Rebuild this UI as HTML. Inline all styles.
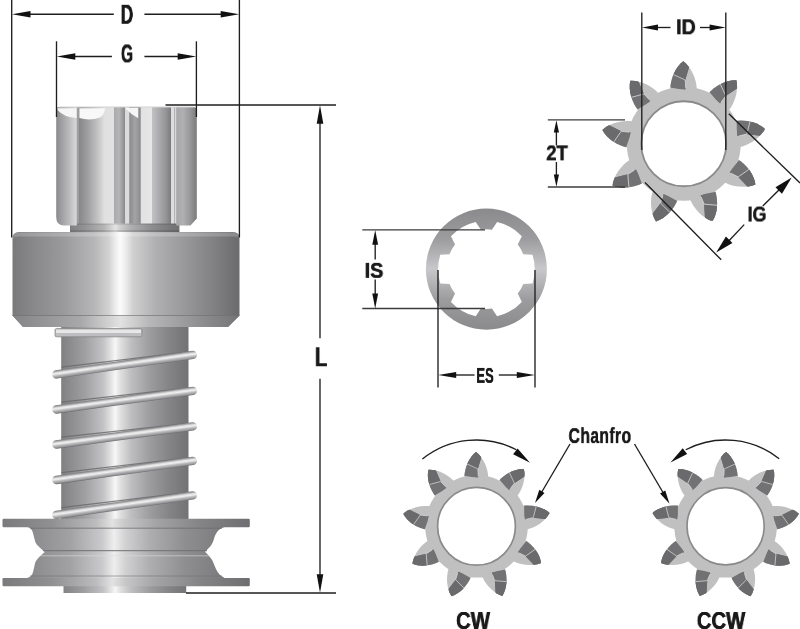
<!DOCTYPE html>
<html lang="pt"><head><meta charset="utf-8"><title>Bendix drive dimensions</title>
<style>
html,body{margin:0;padding:0;background:#fff;}
body{width:800px;height:629px;overflow:hidden;}
#w{position:relative;width:800px;height:629px;overflow:hidden;}
svg{display:block;position:absolute;left:0;top:0;}
.t{position:absolute;font-family:"Liberation Sans",sans-serif;font-weight:bold;color:#1a1a1a;line-height:1;white-space:nowrap;transform-origin:50% 100%;will-change:transform;}
</style></head><body><div id="w">
<svg width="800" height="629" viewBox="0 0 800 629">
<defs>
<linearGradient id="gCollar" x1="12" x2="240" y1="0" y2="0" gradientUnits="userSpaceOnUse">
 <stop offset="0" stop-color="#79797b"/>
 <stop offset="0.085" stop-color="#87878a"/>
 <stop offset="0.22" stop-color="#99999b"/>
 <stop offset="0.36" stop-color="#b6b6b8"/>
 <stop offset="0.425" stop-color="#d2d2d3"/>
 <stop offset="0.455" stop-color="#eeeeee"/>
 <stop offset="0.475" stop-color="#fcfcfc"/>
 <stop offset="0.495" stop-color="#efefef"/>
 <stop offset="0.53" stop-color="#d0d0d1"/>
 <stop offset="0.63" stop-color="#b0b0b2"/>
 <stop offset="0.77" stop-color="#969698"/>
 <stop offset="0.90" stop-color="#7e7e80"/>
 <stop offset="1" stop-color="#6a6a6c"/>
</linearGradient>
<linearGradient id="gCollarB" x1="12" x2="240" y1="0" y2="0" gradientUnits="userSpaceOnUse">
 <stop offset="0" stop-color="#848486"/>
 <stop offset="0.30" stop-color="#a8a8aa"/>
 <stop offset="0.475" stop-color="#e2e2e2"/>
 <stop offset="0.60" stop-color="#b8b8ba"/>
 <stop offset="0.85" stop-color="#8a8a8c"/>
 <stop offset="1" stop-color="#747476"/>
</linearGradient>
<linearGradient id="gShaft" x1="61" x2="188.5" y1="0" y2="0" gradientUnits="userSpaceOnUse">
 <stop offset="0" stop-color="#808082"/>
 <stop offset="0.18" stop-color="#9e9ea0"/>
 <stop offset="0.33" stop-color="#c2c2c4"/>
 <stop offset="0.395" stop-color="#e4e4e4"/>
 <stop offset="0.425" stop-color="#f7f7f7"/>
 <stop offset="0.46" stop-color="#e2e2e2"/>
 <stop offset="0.55" stop-color="#bebec0"/>
 <stop offset="0.70" stop-color="#9c9c9e"/>
 <stop offset="0.85" stop-color="#848486"/>
 <stop offset="1" stop-color="#727274"/>
</linearGradient>
<linearGradient id="gFl" x1="2" x2="250" y1="0" y2="0" gradientUnits="userSpaceOnUse">
 <stop offset="0" stop-color="#7a7a7c"/>
 <stop offset="0.20" stop-color="#909092"/>
 <stop offset="0.38" stop-color="#bcbcbe"/>
 <stop offset="0.445" stop-color="#e2e2e2"/>
 <stop offset="0.50" stop-color="#c6c6c8"/>
 <stop offset="0.62" stop-color="#a4a4a6"/>
 <stop offset="0.80" stop-color="#848486"/>
 <stop offset="1" stop-color="#6e6e70"/>
</linearGradient>
<linearGradient id="gBody" x1="27" x2="225" y1="0" y2="0" gradientUnits="userSpaceOnUse">
 <stop offset="0" stop-color="#88888a"/>
 <stop offset="0.22" stop-color="#a2a2a4"/>
 <stop offset="0.38" stop-color="#cacacc"/>
 <stop offset="0.44" stop-color="#eeeeee"/>
 <stop offset="0.50" stop-color="#d0d0d2"/>
 <stop offset="0.62" stop-color="#aeaeb0"/>
 <stop offset="0.80" stop-color="#8e8e90"/>
 <stop offset="1" stop-color="#7a7a7c"/>
</linearGradient>
<linearGradient id="gPin" x1="56" x2="197" y1="0" y2="0" gradientUnits="userSpaceOnUse">
 <stop offset="0.0014" stop-color="#8a8a8c"/>
 <stop offset="0.0284" stop-color="#9a9a9c"/>
 <stop offset="0.0851" stop-color="#b6b6b8"/>
 <stop offset="0.1440" stop-color="#d8d8d8"/>
 <stop offset="0.1482" stop-color="#a2a2a4"/>
 <stop offset="0.1631" stop-color="#9c9c9e"/>
 <stop offset="0.1660" stop-color="#88888a"/>
 <stop offset="0.2270" stop-color="#a0a0a2"/>
 <stop offset="0.2979" stop-color="#c4c4c6"/>
 <stop offset="0.3440" stop-color="#e0e0e0"/>
 <stop offset="0.4078" stop-color="#e2e2e2"/>
 <stop offset="0.4106" stop-color="#aaaaac"/>
 <stop offset="0.4468" stop-color="#b6b6b8"/>
 <stop offset="0.4865" stop-color="#8c8c8e"/>
 <stop offset="0.4894" stop-color="#dadada"/>
 <stop offset="0.5191" stop-color="#dcdcdc"/>
 <stop offset="0.5220" stop-color="#8c8c8e"/>
 <stop offset="0.5603" stop-color="#a4a4a6"/>
 <stop offset="0.5986" stop-color="#8c8c8e"/>
 <stop offset="0.6014" stop-color="#e2e2e2"/>
 <stop offset="0.6780" stop-color="#e6e6e6"/>
 <stop offset="0.6809" stop-color="#c2c2c4"/>
 <stop offset="0.7376" stop-color="#a8a8aa"/>
 <stop offset="0.7801" stop-color="#949496"/>
 <stop offset="0.8156" stop-color="#7c7c7e"/>
 <stop offset="0.8184" stop-color="#dcdcdc"/>
 <stop offset="0.8369" stop-color="#dedede"/>
 <stop offset="0.8397" stop-color="#aaaaac"/>
 <stop offset="0.8440" stop-color="#dadada"/>
 <stop offset="0.8525" stop-color="#d6d6d6"/>
 <stop offset="0.8553" stop-color="#a8a8aa"/>
 <stop offset="0.9007" stop-color="#b0b0b2"/>
 <stop offset="0.9504" stop-color="#98989a"/>
 <stop offset="0.9986" stop-color="#7a7a7c"/>
</linearGradient>
<linearGradient id="gWire" x1="0" x2="0" y1="-4.2" y2="4.2" gradientUnits="userSpaceOnUse">
 <stop offset="0" stop-color="#7c7c7e"/>
 <stop offset="0.13" stop-color="#a4a4a6"/>
 <stop offset="0.30" stop-color="#e2e2e2"/>
 <stop offset="0.45" stop-color="#eeeeee"/>
 <stop offset="0.66" stop-color="#bababc"/>
 <stop offset="0.86" stop-color="#98989a"/>
 <stop offset="1" stop-color="#6c6c6e"/>
</linearGradient>
<linearGradient id="gRing" x1="0" x2="0" y1="208" y2="330" gradientUnits="userSpaceOnUse">
 <stop offset="0" stop-color="#8a8a8c"/>
 <stop offset="0.25" stop-color="#9c9c9e"/>
 <stop offset="0.5" stop-color="#c8c8ca"/>
 <stop offset="0.75" stop-color="#9c9c9e"/>
 <stop offset="1" stop-color="#8a8a8c"/>
</linearGradient>
<clipPath id="cTooth"><path d="M -13.5,-54 C -13.5,-65 -8,-77 -0.5,-82.5 C 7,-77 13,-65 13,-54 Z"/></clipPath>
<g id="tooth">
 <path d="M -13.5,-54 C -13.5,-65 -8,-77 -0.5,-82.5 C 7,-77 13,-65 13,-54 Z" fill="#c0c0c1"/>
 <g clip-path="url(#cTooth)">
  <polygon points="-20,-90 8,-90 5.3,-76.5 1.5,-64 1.9,-53.6 -14,-56.2" fill="#727274"/>
  <polygon points="-20,-70.6 -11,-69.4 1.5,-63.75 5.3,-76.5 8,-90 -20,-90" fill="#6a6a6c"/>
  <path d="M -12,-70 L 1.5,-63.75 L 1.9,-56" fill="none" stroke="#d4d4d4" stroke-width="0.8"/>
 </g>
</g>
<g id="gear">

<circle r="57" fill="#c0c0c1"/>
<use href="#tooth" transform="rotate(0)"/>
<use href="#tooth" transform="rotate(40)"/>
<use href="#tooth" transform="rotate(80)"/>
<use href="#tooth" transform="rotate(120)"/>
<use href="#tooth" transform="rotate(160)"/>
<use href="#tooth" transform="rotate(200)"/>
<use href="#tooth" transform="rotate(240)"/>
<use href="#tooth" transform="rotate(280)"/>
<use href="#tooth" transform="rotate(320)"/>
</g>
</defs>
<rect width="800" height="629" fill="#fff"/>

<rect x="63.5" y="584" width="122.7" height="9" fill="url(#gShaft)"/>
<rect x="61.2" y="325" width="127.3" height="196" fill="url(#gShaft)"/>
<rect x="70" y="222" width="109.4" height="11" fill="url(#gShaft)"/>
<rect x="70" y="222" width="109.4" height="11" fill="#000" opacity="0.08"/>
<rect x="70" y="223.4" width="109.4" height="1.2" fill="#000" opacity="0.14"/>
<rect x="70" y="230" width="109.4" height="2.5" fill="#000" opacity="0.12"/>
<path d="M56.2,110 Q56.2,107 59.2,107 L192.8,107 Q196.8,107 196.8,111 L196.8,218.5 L190.5,225.6 L176.3,225.6 L176.3,223.5 L77,223.5 L77,225.6 L64.2,225.6 Q56.2,225.6 56.2,217 Z" fill="url(#gPin)"/>
<path d="M57.5,108.2 L76.6,108.2 L76.6,118 Q64,117.5 57.5,110 Z" fill="#f6f6f6"/>
<path d="M79.4,108.2 L105,108.2 Q104.5,114.5 100,117.5 Q90,121 79.4,118 Z" fill="#f8f8f8"/>
<path d="M125,108 L138.2,108 L138.2,118.2 L131.5,114 Z" fill="#f6f6f6"/>
<path d="M59.2,107 L193.8,107" stroke="#d4d4d4" stroke-width="1.2" fill="none"/>
<path d="M12.5,238.5 Q12.5,232 19,232 L233,232 Q239.5,232 239.5,238.5 L239.5,315.5 L228,327 L23,327 L12.5,315.5 Z" fill="url(#gCollar)"/>
<path d="M13,238.5 Q13,232.4 19,232.4 L233,232.4 Q239,232.4 239,238.5 Q239,236.4 233,236.4 L19,236.4 Q13,236.4 13,238.5 Z" fill="#fff" opacity="0.2"/>
<path d="M12.5,315.5 L239.5,315.5 L228,327 L23,327 Z" fill="url(#gCollarB)"/>
<line x1="12.5" y1="315.5" x2="239.5" y2="315.5" stroke="#6e6e70" stroke-width="0.9" opacity="0.7"/>
<rect x="55" y="328.6" width="87" height="8.2" rx="1.5" fill="#bebec0" stroke="#858587" stroke-width="0.8"/>
<rect x="56" y="329.6" width="85" height="3.4" fill="#e6e6e6"/>
<line x1="61.5" y1="367.11" x2="188.5" y2="351.97" stroke="#68686a" stroke-width="1.3" opacity="0.8"/>
<g transform="translate(56.30,374.46) rotate(-8.130)"><rect x="-4.2" y="-4.2" width="146.29" height="8.4" rx="4.2" fill="url(#gWire)"/></g>
<line x1="61.5" y1="402.18" x2="188.5" y2="387.92" stroke="#68686a" stroke-width="1.3" opacity="0.8"/>
<g transform="translate(56.30,409.48) rotate(-7.738)"><rect x="-4.2" y="-4.2" width="146.15" height="8.4" rx="4.2" fill="url(#gWire)"/></g>
<line x1="61.5" y1="437.21" x2="188.5" y2="423.39" stroke="#68686a" stroke-width="1.3" opacity="0.8"/>
<g transform="translate(56.30,444.50) rotate(-7.542)"><rect x="-4.2" y="-4.2" width="146.09" height="8.4" rx="4.2" fill="url(#gWire)"/></g>
<line x1="61.5" y1="472.65" x2="188.5" y2="457.95" stroke="#68686a" stroke-width="1.3" opacity="0.8"/>
<g transform="translate(56.30,479.97) rotate(-7.934)"><rect x="-4.2" y="-4.2" width="146.22" height="8.4" rx="4.2" fill="url(#gWire)"/></g>
<line x1="61.5" y1="507.61" x2="188.5" y2="492.47" stroke="#68686a" stroke-width="1.3" opacity="0.8"/>
<g transform="translate(56.30,514.96) rotate(-8.130)"><rect x="-4.2" y="-4.2" width="146.29" height="8.4" rx="4.2" fill="url(#gWire)"/></g>
<path d="M27.5,527 C31,528 32.5,530 33.5,535 L35,541 C36,544.5 38,546 44.8,552 C38,558 36,560 35,563.5 L33.5,570 C32.5,575 31,577 27,578 L224.6,578 C219,575 217,572 214.5,565.5 C213,561 211.5,558 205,551.7 C211.5,546 213,543 214.5,537 C217,531 219,529 224.6,527 Z" fill="url(#gBody)"/>
<rect x="2.5" y="518.8" width="247.3" height="8.4" rx="1.2" fill="url(#gFl)"/>
<rect x="2.5" y="578" width="247.3" height="8.2" rx="1.2" fill="url(#gFl)"/>
<line x1="30" y1="528.2" x2="222" y2="528.2" stroke="#6c6c6e" stroke-width="1.4" opacity="0.55"/>
<line x1="43" y1="550.6" x2="207" y2="550.6" stroke="#707072" stroke-width="1.2" opacity="0.8"/>
<line x1="40" y1="555.8" x2="210" y2="555.8" stroke="#dcdcdc" stroke-width="1" opacity="0.6"/>
<line x1="30" y1="576" x2="222" y2="576" stroke="#707072" stroke-width="1" opacity="0.6"/>
<line x1="11.70" y1="0.00" x2="11.70" y2="237.50" stroke="#1e1e1e" stroke-width="1.35"/>
<line x1="239.40" y1="0.00" x2="239.40" y2="237.50" stroke="#1e1e1e" stroke-width="1.35"/>
<line x1="30.00" y1="14.20" x2="113.80" y2="14.20" stroke="#1e1e1e" stroke-width="1.35"/>
<line x1="144.40" y1="14.20" x2="221.00" y2="14.20" stroke="#1e1e1e" stroke-width="1.35"/>
<polygon points="12.00,14.20 30.50,10.90 30.50,17.50" fill="#111"/>
<polygon points="239.20,14.20 220.70,17.50 220.70,10.90" fill="#111"/>

<line x1="56.50" y1="41.30" x2="56.50" y2="117.00" stroke="#1e1e1e" stroke-width="1.35"/>
<line x1="196.40" y1="41.30" x2="196.40" y2="117.00" stroke="#1e1e1e" stroke-width="1.35"/>
<line x1="75.00" y1="56.50" x2="111.90" y2="56.50" stroke="#1e1e1e" stroke-width="1.35"/>
<line x1="144.40" y1="56.50" x2="178.50" y2="56.50" stroke="#1e1e1e" stroke-width="1.35"/>
<polygon points="56.80,56.50 75.30,53.20 75.30,59.80" fill="#111"/>
<polygon points="196.20,56.50 177.70,59.80 177.70,53.20" fill="#111"/>

<line x1="165.50" y1="105.00" x2="336.00" y2="105.00" stroke="#1e1e1e" stroke-width="1.35"/>
<line x1="186.00" y1="593.00" x2="336.00" y2="593.00" stroke="#1e1e1e" stroke-width="1.35"/>
<line x1="320.00" y1="122.00" x2="320.00" y2="338.30" stroke="#1e1e1e" stroke-width="1.35"/>
<line x1="320.00" y1="378.80" x2="320.00" y2="575.00" stroke="#1e1e1e" stroke-width="1.35"/>
<polygon points="320.00,105.30 323.30,123.80 316.70,123.80" fill="#111"/>
<polygon points="320.00,592.70 316.70,574.20 323.30,574.20" fill="#111"/>

<path d="M 546.90,269.10 A 60.50 60.50 0 1 0 425.90,269.10 A 60.50 60.50 0 1 0 546.90,269.10 Z M 532.54,283.38 L 523.30,284.01 A 39.80 39.80 0 0 1 517.76,293.60 L 521.84,301.92 A 48.30 48.30 0 0 1 497.10,316.20 L 491.94,308.51 A 39.80 39.80 0 0 1 480.86,308.51 L 475.70,316.20 A 48.30 48.30 0 0 1 450.96,301.92 L 455.04,293.60 A 39.80 39.80 0 0 1 449.50,284.01 L 440.26,283.38 A 48.30 48.30 0 0 1 440.26,254.82 L 449.50,254.19 A 39.80 39.80 0 0 1 455.04,244.60 L 450.96,236.28 A 48.30 48.30 0 0 1 475.70,222.00 L 480.86,229.69 A 39.80 39.80 0 0 1 491.94,229.69 L 497.10,222.00 A 48.30 48.30 0 0 1 521.84,236.28 L 517.76,244.60 A 39.80 39.80 0 0 1 523.30,254.19 L 532.54,254.82 A 48.30 48.30 0 0 1 532.54,283.38 Z" fill="url(#gRing)" fill-rule="evenodd"/>
<line x1="362.30" y1="229.90" x2="485.00" y2="229.90" stroke="#3c3c3c" stroke-width="1.35"/>
<line x1="362.30" y1="308.50" x2="485.00" y2="308.50" stroke="#3c3c3c" stroke-width="1.35"/>
<line x1="375.20" y1="243.50" x2="375.20" y2="259.40" stroke="#1e1e1e" stroke-width="1.35"/>
<line x1="375.20" y1="279.60" x2="375.20" y2="295.00" stroke="#1e1e1e" stroke-width="1.35"/>
<polygon points="375.20,230.00 378.10,244.80 372.30,244.80" fill="#111"/>
<polygon points="375.20,308.40 372.30,293.60 378.10,293.60" fill="#111"/>

<line x1="438.00" y1="270.00" x2="438.00" y2="387.50" stroke="#1e1e1e" stroke-width="1.35"/>
<line x1="535.00" y1="270.00" x2="535.00" y2="387.50" stroke="#1e1e1e" stroke-width="1.35"/>
<line x1="455.00" y1="375.00" x2="474.50" y2="375.00" stroke="#1e1e1e" stroke-width="1.35"/>
<line x1="498.80" y1="375.00" x2="518.00" y2="375.00" stroke="#1e1e1e" stroke-width="1.35"/>
<polygon points="438.20,375.00 456.20,372.00 456.20,378.00" fill="#111"/>
<polygon points="534.80,375.00 516.80,378.00 516.80,372.00" fill="#111"/>

<g transform="translate(683.75,143.75)"><use href="#gear"/><circle r="42.5" fill="#fff" stroke="#8a8a8c" stroke-width="1.8"/></g>
<line x1="641.80" y1="12.50" x2="641.80" y2="150.00" stroke="#1e1e1e" stroke-width="1.35"/>
<line x1="725.80" y1="12.50" x2="725.80" y2="150.00" stroke="#1e1e1e" stroke-width="1.35"/>
<line x1="657.00" y1="27.50" x2="670.50" y2="27.50" stroke="#1e1e1e" stroke-width="1.35"/>
<line x1="700.00" y1="27.50" x2="712.00" y2="27.50" stroke="#1e1e1e" stroke-width="1.35"/>
<polygon points="642.00,27.50 658.00,24.50 658.00,30.50" fill="#111"/>
<polygon points="725.60,27.50 709.60,30.50 709.60,24.50" fill="#111"/>

<line x1="547.80" y1="119.90" x2="625.00" y2="119.90" stroke="#3c3c3c" stroke-width="1.35"/>
<line x1="547.80" y1="187.00" x2="625.00" y2="187.00" stroke="#3c3c3c" stroke-width="1.35"/>
<line x1="556.40" y1="131.50" x2="556.40" y2="145.30" stroke="#1e1e1e" stroke-width="1.35"/>
<line x1="556.40" y1="162.00" x2="556.40" y2="175.50" stroke="#1e1e1e" stroke-width="1.35"/>
<polygon points="556.40,120.20 559.00,132.60 553.80,132.60" fill="#111"/>
<polygon points="556.40,186.80 553.80,174.40 559.00,174.40" fill="#111"/>

<line x1="645.00" y1="182.50" x2="721.20" y2="259.80" stroke="#1e1e1e" stroke-width="1.35"/>
<line x1="728.80" y1="113.80" x2="800.00" y2="183.00" stroke="#1e1e1e" stroke-width="1.35"/>
<line x1="729.00" y1="240.80" x2="744.20" y2="224.60" stroke="#1e1e1e" stroke-width="1.35"/>
<line x1="762.80" y1="205.90" x2="779.40" y2="189.40" stroke="#1e1e1e" stroke-width="1.35"/>
<polygon points="716.20,252.60 725.94,236.44 732.42,242.97" fill="#111"/>
<polygon points="791.70,177.60 781.96,193.76 775.48,187.23" fill="#111"/>

<g transform="translate(476.5,526.3) scale(0.9)"><use href="#gear"/></g><circle cx="476.5" cy="526.3" r="38.9" fill="#fff" stroke="#8a8a8c" stroke-width="1.7"/>
<g transform="translate(725.6,526.3) scale(-0.9,0.9)"><use href="#gear"/></g><circle cx="725.6" cy="526.3" r="38.6" fill="#fff" stroke="#8a8a8c" stroke-width="1.7"/>
<path d="M 422.42,459.04 A 86.30 86.30 0 0 1 516.35,449.75" fill="none" stroke="#1e1e1e" stroke-width="1.35"/>
<polygon points="530.00,462.80 513.13,454.19 517.56,448.51" fill="#111"/>
<path d="M 779.21,458.67 A 86.30 86.30 0 0 0 685.75,449.75" fill="none" stroke="#1e1e1e" stroke-width="1.35"/>
<polygon points="670.50,462.50 682.71,448.27 687.17,453.92" fill="#111"/>

<line x1="570.00" y1="444.00" x2="540.00" y2="495.00" stroke="#1e1e1e" stroke-width="1.35"/>
<line x1="634.50" y1="444.00" x2="664.50" y2="495.00" stroke="#1e1e1e" stroke-width="1.35"/>
<polygon points="535.00,503.00 539.31,489.86 544.47,492.92" fill="#111"/>
<polygon points="669.50,503.70 660.08,493.57 665.26,490.54" fill="#111"/>


</svg>
<div class="t" id="t_D" style="left:127.20px;top:27.90px;font-size:27.20px;letter-spacing:0.00px;text-shadow:0.55px 0 0 #1a1a1a,-0.55px 0 0 #1a1a1a;transform:translate(-50%,-100%) scaleX(0.6277)">D</div>
<div class="t" id="t_G" style="left:126.80px;top:67.00px;font-size:25.56px;letter-spacing:0.00px;text-shadow:0.55px 0 0 #1a1a1a,-0.55px 0 0 #1a1a1a;transform:translate(-50%,-100%) scaleX(0.5981)">G</div>
<div class="t" id="t_L" style="left:320.50px;top:371.30px;font-size:26.76px;letter-spacing:0.00px;text-shadow:0.55px 0 0 #1a1a1a,-0.55px 0 0 #1a1a1a;transform:translate(-50%,-100%) scaleX(0.7419)">L</div>
<div class="t" id="t_IS" style="left:374.40px;top:281.70px;font-size:22.16px;letter-spacing:0.00px;text-shadow:0.30px 0 0 #1a1a1a,-0.30px 0 0 #1a1a1a;transform:translate(-50%,-100%) scaleX(0.8871)">IS</div>
<div class="t" id="t_ES" style="left:484.50px;top:386.80px;font-size:22.09px;letter-spacing:0.00px;text-shadow:0.30px 0 0 #1a1a1a,-0.30px 0 0 #1a1a1a;transform:translate(-50%,-100%) scaleX(0.5860)">ES</div>
<div class="t" id="t_ID" style="left:686.30px;top:37.70px;font-size:22.72px;letter-spacing:0.00px;text-shadow:0.30px 0 0 #1a1a1a,-0.30px 0 0 #1a1a1a;transform:translate(-50%,-100%) scaleX(0.8605)">ID</div>
<div class="t" id="t_2T" style="left:557.40px;top:165.40px;font-size:22.64px;letter-spacing:0.00px;text-shadow:0.30px 0 0 #1a1a1a,-0.30px 0 0 #1a1a1a;transform:translate(-50%,-100%) scaleX(0.8103)">2T</div>
<div class="t" id="t_IG" style="left:757.30px;top:225.50px;font-size:22.44px;letter-spacing:0.00px;text-shadow:0.30px 0 0 #1a1a1a,-0.30px 0 0 #1a1a1a;transform:translate(-50%,-100%) scaleX(0.7869)">IG</div>
<div class="t" id="t_Chanfro" style="left:600.20px;top:447.00px;font-size:21.87px;letter-spacing:0.50px;text-shadow:0.15px 0 0 #1a1a1a,-0.15px 0 0 #1a1a1a;transform:translate(-50%,-100%) scaleX(0.7213)">Chanfro</div>
<div class="t" id="t_CW" style="left:472.80px;top:632.60px;font-size:24.00px;letter-spacing:0.00px;text-shadow:0.30px 0 0 #1a1a1a,-0.30px 0 0 #1a1a1a;transform:translate(-50%,-100%) scaleX(0.8505)">CW</div>
<div class="t" id="t_CCW" style="left:721.40px;top:632.60px;font-size:24.00px;letter-spacing:0.00px;text-shadow:0.30px 0 0 #1a1a1a,-0.30px 0 0 #1a1a1a;transform:translate(-50%,-100%) scaleX(0.8450)">CCW</div>
</div></body></html>
